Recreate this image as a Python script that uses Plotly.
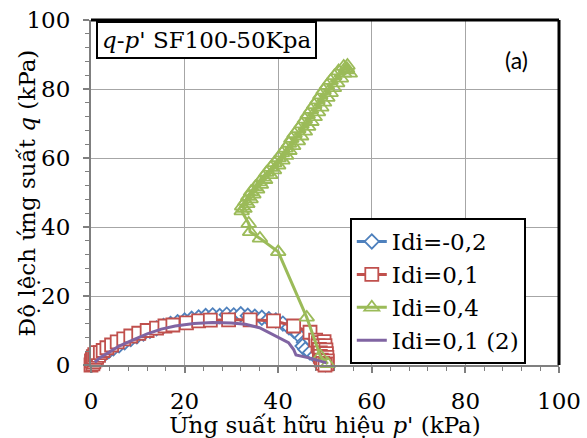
import plotly.graph_objects as go

# ---- data ----
blue_p = [0.3,0.6,1.0,1.5,2.2,3.0,3.8,4.8,6.0,7.2,8.5,9.8,11.2,12.6,14.0,15.5,17.0,18.5,20.0,21.5,
          23.0,24.5,26.0,27.5,29.0,30.5,32.0,33.5,35.0,36.5,38.0,39.5,41.0,42.3,43.3,44.2,45.0,45.5,
          45.2,45.8,46.8,47.8,48.6,49.3,49.8,50.1]
blue_q = [0.2,0.8,1.3,1.9,2.6,3.3,4.0,4.8,5.7,6.6,7.5,8.3,9.1,9.9,10.6,11.3,11.9,12.4,12.9,13.4,
          13.8,14.2,14.4,14.2,14.6,14.4,14.7,14.3,14.0,13.7,13.3,12.9,12.0,10.9,10.0,9.0,7.8,6.6,
          5.5,4.5,3.6,2.7,1.9,1.1,0.6,0.2]

red_p = [0.0,-0.3,0.4,0.1,0.6,0.3,0.9,0.5,1.2,0.8,1.6,1.2,2.0,2.6,3.4,4.4,5.6,7.0,8.5,10.2,
         12.0,14.0,15.8,17.5,20.4,23.0,25.5,29.4,34.0,39.0,43.3,46.8,
         48.0,48.6,49.8,48.5,50.0,48.8,50.2,49.0,50.3,49.0,50.4,49.2,50.5,49.5,50.4,50.0]
red_q = [0.0,0.6,0.3,1.2,0.9,1.8,1.5,2.4,2.2,3.0,2.8,3.6,3.6,4.2,5.0,5.8,6.7,7.6,8.4,9.2,
         10.0,10.7,11.3,11.6,12.2,12.8,13.0,13.1,13.1,12.8,11.3,9.5,
         7.2,6.5,6.8,5.5,5.6,4.5,4.4,3.5,3.3,2.5,2.2,1.4,1.2,0.5,0.3,0.0]

green_p = [50.6,49.0,46.1,40.0,36.1,34.0,33.7,32.2,
           32.8,32.3,33.4,33.0,34.1,33.6,34.7,34.2,35.5,35.1,36.3,36.0,37.2,36.8,
           38.3,37.5,39.1,38.4,40.0,39.2,40.9,40.1,41.7,40.8,42.4,41.6,43.2,42.3,
           44.2,42.8,44.9,43.5,45.7,44.3,46.4,45.0,47.1,45.7,47.8,46.3,48.5,47.0,
           49.2,47.7,49.8,48.4,50.5,49.0,51.2,49.7,51.9,50.4,52.6,51.2,53.4,52.0,
           54.1,52.9,54.7,54.0,54.8,55.3,54.6]
green_q = [0.3,2.6,13.8,32.8,36.7,38.6,41.0,44.6,
           45.3,46.0,46.7,47.4,48.1,48.8,49.5,50.2,50.9,51.6,52.3,53.0,53.7,54.4,
           55.1,55.8,56.5,57.2,57.9,58.6,59.3,60.0,60.7,61.4,62.1,62.8,63.5,64.2,
           64.9,65.6,66.3,67.0,67.7,68.4,69.1,69.8,70.5,71.2,71.9,72.6,73.3,74.0,
           74.7,75.4,76.1,76.8,77.5,78.2,78.9,79.6,80.3,81.0,81.7,82.4,83.1,83.8,
           84.5,85.2,85.9,86.5,86.8,84.5,85.5]

purple_p = [0.8,2.0,4.0,6.0,9.0,12.0,15.0,18.0,22.0,26.0,30.0,33.0,36.0,38.3,40.5,42.2,43.3,43.8,46.8,50.3]
purple_q = [0.8,2.2,3.8,5.5,7.3,9.0,10.4,11.3,12.0,12.3,12.2,11.8,10.8,9.2,7.8,6.5,4.5,2.9,2.0,0.6]

names = ["Idi=-0,2", "Idi=0,1", "Idi=0,4", "Idi=0,1 (2)"]
axis_ticks = [0, 20, 40, 60, 80, 100]

BLUE, RED, GREEN, PURPLE = "#4F81BD", "#C0504D", "#9BBB59", "#8064A2"
SERIF = "DejaVu Serif"
FS = 23

fig = go.Figure()
fig.add_trace(go.Scatter(x=blue_p, y=blue_q, name=names[0], mode="lines+markers",
                         line=dict(color=BLUE, width=3), cliponaxis=False,
                         marker=dict(symbol="diamond", size=11, color="white",
                                     line=dict(color=BLUE, width=1.8))))
fig.add_trace(go.Scatter(x=red_p, y=red_q, name=names[1], mode="lines+markers",
                         line=dict(color=RED, width=3), cliponaxis=False,
                         marker=dict(symbol="square", size=13, color="white",
                                     line=dict(color=RED, width=1.8))))
fig.add_trace(go.Scatter(x=green_p, y=green_q, name=names[2], mode="lines+markers",
                         line=dict(color=GREEN, width=3), cliponaxis=False,
                         marker=dict(symbol="triangle-up-open", size=13, color=GREEN,
                                     line=dict(color=GREEN, width=1.8))))
fig.add_trace(go.Scatter(x=purple_p, y=purple_q, name=names[3], mode="lines",
                         line=dict(color=PURPLE, width=3), cliponaxis=False))

axis_common = dict(range=[0, 100], tickvals=axis_ticks, showgrid=True, gridcolor="#A6A6A6",
                   gridwidth=1.3, zeroline=False, showline=True, linecolor="#7F7F7F", linewidth=2,
                   ticks="outside", ticklen=6, tickcolor="#7F7F7F", tickwidth=1.5,
                   automargin=False,
                   minor=dict(dtick=4, ticks="outside", ticklen=4, tickcolor="#7F7F7F",
                              tickwidth=1.2, showgrid=False),
                   tickfont=dict(family=SERIF, size=FS, color="black"))

fig.update_layout(
    width=587, height=438, margin=dict(l=91, r=28, t=20, b=73),
    paper_bgcolor="white", plot_bgcolor="white",
    xaxis=dict(**axis_common, title=dict(text="Ứng suất hữu hiệu <i>p</i>' (kPa)",
                                         font=dict(family=SERIF, size=FS, color="black"), standoff=0),
               ticklabelstandoff=8),
    yaxis=dict(**axis_common, ticklabelstandoff=8),
    legend=dict(x=0.553, y=0.426, xanchor="left", yanchor="top", bgcolor="white",
                bordercolor="black", borderwidth=2,
                font=dict(family=SERIF, size=FS, color="black"), tracegroupgap=0),
    shapes=[
        dict(type="line", xref="x domain", yref="y domain", x0=0, x1=1, y0=1, y1=1,
             line=dict(color="black", width=3)),
        dict(type="line", xref="x domain", yref="y domain", x0=1, x1=1, y0=0, y1=1,
             line=dict(color="black", width=3)),
    ],
    annotations=[
        dict(text="Độ lệch ứng suất <i>q</i> (kPa)", xref="paper", yref="paper",
             x=-0.137, y=0.5, xanchor="center", yanchor="middle", textangle=-90,
             showarrow=False, font=dict(family=SERIF, size=FS, color="black")),
        dict(text="<i>q</i>-<i>p</i>' SF100-50Kpa", xref="x domain", yref="y domain",
             x=0.011, y=0.996, xanchor="left", yanchor="top", showarrow=False,
             font=dict(family=SERIF, size=23, color="black"), bordercolor="black",
             borderwidth=2, borderpad=4, bgcolor="white"),
        dict(text="(a)", xref="x domain", yref="y domain", x=0.91, y=0.885,
             xanchor="center", yanchor="middle", showarrow=False,
             font=dict(family="Lato", size=23, color="black")),
    ],
)

fig.write_html("out.html")
